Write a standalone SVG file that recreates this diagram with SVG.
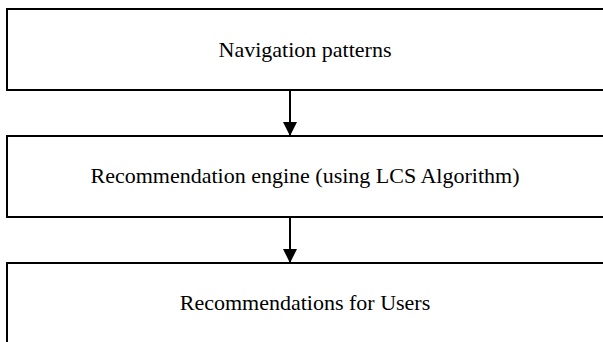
<svg xmlns="http://www.w3.org/2000/svg" width="603" height="342" viewBox="0 0 603 342">
<defs>
<style>
.box{fill:#fff;stroke:#000;stroke-width:2}
.lbl{font-family:"Liberation Serif","Times New Roman",serif;font-size:22px;fill:#000;text-anchor:middle}
.conn{stroke:#000;stroke-width:2;fill:none}
</style>
<marker id="ah" markerUnits="userSpaceOnUse" markerWidth="14" markerHeight="14" refX="14" refY="7" orient="auto">
<path d="M0,0 L14,7 L0,14 Z" fill="#000"/>
</marker>
</defs>
<rect width="603" height="342" fill="#fff"/>
<g id="node-navigation">
<rect class="box" x="7" y="9" width="620" height="81"/>
<text class="lbl" x="305" y="57">Navigation patterns</text>
</g>
<g id="node-engine">
<rect class="box" x="7" y="136" width="620" height="81"/>
<text class="lbl" x="305" y="183">Recommendation engine (using LCS Algorithm)</text>
</g>
<g id="node-recommendations">
<rect class="box" x="7" y="263" width="620" height="100"/>
<text class="lbl" x="305" y="310">Recommendations for Users</text>
</g>
<g id="connectors">
<line class="conn" x1="290" y1="90" x2="290" y2="136" marker-end="url(#ah)"/>
<line class="conn" x1="290" y1="217" x2="290" y2="263" marker-end="url(#ah)"/>
</g>
</svg>
